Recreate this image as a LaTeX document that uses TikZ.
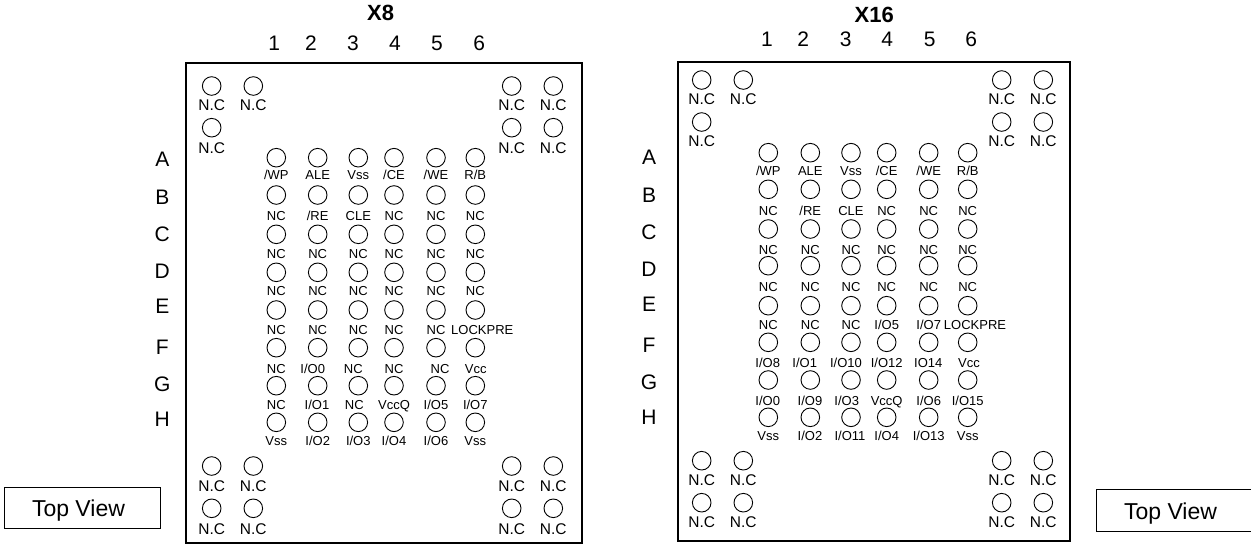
\documentclass[tikz,border=0pt]{standalone}
\usepackage{fontspec}
\setmainfont{Liberation Sans}
\tikzset{
  x=1pt,y=-1pt,
  frame/.style={draw=black,line width=1.7pt,fill=white,outer sep=0pt},
  pad/.style={draw=black,circle,line width=0.9pt,minimum size=18.6pt,inner sep=0pt},
  txt/.style={inner sep=0pt,anchor=base,text=black},
  pinlabel/.style={txt,font=\fontsize{13}{15}\selectfont},
  nclabel/.style={txt,font=\fontsize{15.5}{18}\selectfont},
  idx/.style={txt,font=\fontsize{21}{24}\selectfont},
  title/.style={txt,font=\bfseries\fontsize{22}{26}\selectfont},
  viewbox/.style={draw=black,line width=0.9pt,outer sep=0pt},
  viewtext/.style={txt,font=\fontsize{23}{27}\selectfont},
}
% \pinrow{name prefix}{pad y}{label baseline y}{padx/labelx/{text},...}
\newcommand{\pinrow}[4]{%
  \foreach \cx/\lx/\t [count=\c] in {#4}{%
    \node[pad] (#1p\c) at (\cx,#2) {};
    \node[pinlabel] (#1t\c) at (\lx,#3) {\t};
  }}
% \ncpad{name}{x}{pad y}{label baseline y}
\newcommand{\ncpad}[4]{%
  \node[pad] (#1p) at (#2,#3) {};
  \node[nclabel] (#1t) at (#2,#4) {N.C};}
\begin{document}
\begin{tikzpicture}
\useasboundingbox (0,0) rectangle (1251,544);
% ---------- frames
\node[frame,minimum width=396pt,minimum height=479.4pt,inner sep=0pt,anchor=north west] (Lframe) at (185.7,63.3) {};
\node[frame,minimum width=392pt,minimum height=479pt,inner sep=0pt,anchor=north west] (Rframe) at (678,61.7) {};
% ---------- top view boxes
\node[viewbox,minimum width=156.4pt,minimum height=41pt,inner sep=0pt,anchor=north west] (Lview) at (4.3,487.3) {};
\node[viewtext] (Lviewt) at (78.5,516.7) {Top View};
\coordinate (Rv1) at (1251,489.3);
\coordinate (Rv2) at (1096.7,489.3);
\coordinate (Rv3) at (1096.7,531);
\coordinate (Rv4) at (1251,531);
\draw[viewbox] (Rv1) -- (Rv2) -- (Rv3) -- (Rv4);
\node[viewtext] (Rviewt) at (1170.5,519.3) {Top View};
% ---------- titles
\node[title] (Ltitle) at (380.7,20.7) {X8};
\node[title] (Rtitle) at (874.3,22.7) {X16};
% ---------- column numbers
\foreach \x/\t [count=\c] in {274.3/1,311/2,353/3,395/4,437/5,479.3/6}{\node[idx] (Lc\c) at (\x,50) {\t};}
\foreach \x/\t [count=\c] in {767/1,803.3/2,845.7/3,887.3/4,929.7/5,971.3/6}{\node[idx] (Rc\c) at (\x,46.7) {\t};}
% ---------- row letters
\foreach \y/\t in {166.7/A,204.5/B,241.5/C,278.5/D,313.3/E,354/F,391.7/G,426.7/H}{\node[idx] (Lr\t) at (162.3,\y) {\t};}
\foreach \y/\t in {164.3/A,202.5/B,239.5/C,276.5/D,311.3/E,352/F,389.7/G,424.7/H}{\node[idx] (Rr\t) at (649,\y) {\t};}
% ---------- X8 corner pads
\ncpad{La}{211.7}{86}{110}
\ncpad{Lb}{253.3}{86}{110}
\ncpad{Lc}{211.7}{127.7}{153.3}
\ncpad{Ld}{511.7}{86}{110}
\ncpad{Le}{553.3}{86}{110}
\ncpad{Lf}{511.7}{127.7}{153.3}
\ncpad{Lg}{553.3}{127.7}{153.3}
\ncpad{Lh}{211.7}{466}{491.7}
\ncpad{Li}{253.3}{466}{491.7}
\ncpad{Lj}{211.7}{508.3}{534.3}
\ncpad{Lk}{253.3}{508.3}{534.3}
\ncpad{Ll}{511.7}{466}{491.7}
\ncpad{Lm}{553.3}{466}{491.7}
\ncpad{Ln}{511.7}{508.3}{534.3}
\ncpad{Lo}{553.3}{508.3}{534.3}
% ---------- X8 ball grid
\pinrow{LA}{157.7}{179.3}{276.3/276.3/{/WP},317.7/317.7/{ALE},358.3/358.3/{Vss},394/394/{/CE},436/436/{/WE},475.3/475.3/{R/B}}
\pinrow{LB}{195}{220}{276.3/276.3/{NC},317.7/317.7/{/RE},358.3/358.3/{CLE},394/394/{NC},436/436/{NC},475.3/475.3/{NC}}
\pinrow{LC}{234.3}{258.3}{276.3/276.3/{NC},317.7/317.7/{NC},358.3/358.3/{NC},394/394/{NC},436/436/{NC},475.3/475.3/{NC}}
\pinrow{LD}{272.3}{295.5}{276.3/276.3/{NC},317.7/317.7/{NC},358.3/358.3/{NC},394/394/{NC},436/436/{NC},475.3/475.3/{NC}}
\pinrow{LE}{310}{334}{276.3/276.3/{NC},317.7/317.7/{NC},358.3/358.3/{NC},394/394/{NC},436/436/{NC},475.3/482.3/{LOCKPRE}}
\pinrow{LF}{347.7}{373.3}{276.3/276.3/{NC},317.7/312.7/{I/O0},358.3/353.3/{NC},394/394/{NC},436/440/{NC},475.3/475.7/{Vcc}}
\pinrow{LG}{385.7}{409.3}{276.3/276.3/{NC},317.7/317/{I/O1},358.3/354.3/{NC},394/394/{VccQ},436/436/{I/O5},475.3/475.3/{I/O7}}
\pinrow{LH}{422.3}{445}{276.3/276.3/{Vss},317.7/317.7/{I/O2},358.3/358.3/{I/O3},394/394/{I/O4},436/436/{I/O6},475.3/475.3/{Vss}}
% ---------- X16 corner pads
\ncpad{Ra}{701.7}{80}{104}
\ncpad{Rb}{743.3}{80}{104}
\ncpad{Rc}{701.7}{122}{146.7}
\ncpad{Rd}{1001.7}{80}{104}
\ncpad{Re}{1043.3}{80}{104}
\ncpad{Rf}{1001.7}{122}{146.7}
\ncpad{Rg}{1043.3}{122}{146.7}
\ncpad{Rh}{701.7}{460.7}{485}
\ncpad{Ri}{743.3}{460.7}{485}
\ncpad{Rj}{701.7}{502.7}{527.3}
\ncpad{Rk}{743.3}{502.7}{527.3}
\ncpad{Rl}{1001.7}{460.7}{485}
\ncpad{Rm}{1043.3}{460.7}{485}
\ncpad{Rn}{1001.7}{502.7}{527.3}
\ncpad{Ro}{1043.3}{502.7}{527.3}
% ---------- X16 ball grid
\pinrow{RA}{152.7}{175}{768.3/768.3/{/WP},810.3/810.3/{ALE},851/851/{Vss},886.7/886.7/{/CE},928.7/928.7/{/WE},967.7/967.7/{R/B}}
\pinrow{RB}{189.3}{215}{768.3/768.3/{NC},810.3/810.3/{/RE},851/851/{CLE},886.7/886.7/{NC},928.7/928.7/{NC},967.7/967.7/{NC}}
\pinrow{RC}{229}{254}{768.3/768.3/{NC},810.3/810.3/{NC},851/851/{NC},886.7/886.7/{NC},928.7/928.7/{NC},967.7/967.7/{NC}}
\pinrow{RD}{265.7}{291}{768.3/768.3/{NC},810.3/810.3/{NC},851/851/{NC},886.7/886.7/{NC},928.7/928.7/{NC},967.7/967.7/{NC}}
\pinrow{RE}{305.7}{329}{768.3/768.3/{NC},810.3/810.3/{NC},851/851/{NC},886.7/886.7/{I/O5},928.7/928.7/{I/O7},967.7/975/{LOCKPRE}}
\pinrow{RF}{342.3}{367.3}{768.3/767.7/{I/O8},810.3/804.7/{I/O1},851/846/{I/O10},886.7/886.7/{I/O12},928.7/928.3/{IO14},967.7/969/{Vcc}}
\pinrow{RG}{380}{405}{768.3/767.7/{I/O0},810.3/810/{I/O9},851/846.7/{I/O3},886.7/886.7/{VccQ},928.7/928.7/{I/O6},967.7/967.7/{I/O15}}
\pinrow{RH}{417.3}{440}{768.3/768.3/{Vss},810.3/810/{I/O2},851/850/{I/O11},886.7/886.7/{I/O4},928.7/928.7/{I/O13},967.7/967.7/{Vss}}
\end{tikzpicture}
\end{document}
